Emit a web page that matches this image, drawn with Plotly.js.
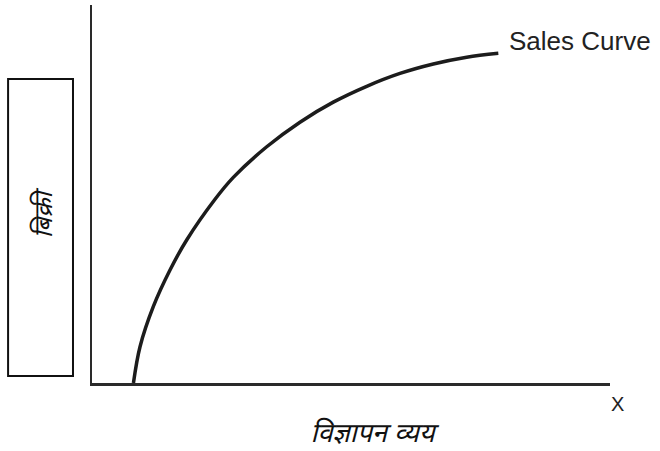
<!DOCTYPE html>
<html>
<head>
<meta charset="utf-8">
<script src="https://cdn.plot.ly/plotly-3.0.1.min.js"></script>
<style>html,body{margin:0;padding:0;background:#fff;}#chart{width:660px;height:451px;}</style>
</head>
<body>
<div id="chart"></div>
<script>
// Advertising expenditure (x) vs sales (y), arbitrary units 0-100
const adSpend = [8, 9.27, 11.83, 15.06, 18.28, 23.75, 27.28, 33.73, 40.15, 46.58, 53.03, 59.46, 65.89, 72.34, 78.44];
const sales   = [0, 9.6, 20.19, 29.89, 37.83, 48.6, 54.4, 62.5, 69.0, 74.3, 78.5, 81.9, 84.4, 86.2, 87.22];
const curveLabel = "Sales Curve";
const xLabel = "विज्ञापन व्यय";
const yLabel = "बिक्री";
const xAxisLetter = "X";

const trace = {
  x: adSpend, y: sales, type: 'scatter', mode: 'lines',
  line: {color: '#1c1c1c', width: 3.5, shape: 'spline', smoothing: 1},
  hoverinfo: 'skip', showlegend: false
};

const layout = {
  width: 660, height: 451,
  margin: {l: 92, r: 50, t: 5, b: 68, pad: 0},
  paper_bgcolor: '#fff', plot_bgcolor: '#fff',
  xaxis: {range: [0, 100], showgrid: false, zeroline: false, showticklabels: false, ticks: '',
          showline: true, linecolor: '#2a2a2a', linewidth: 2.5, fixedrange: true},
  yaxis: {range: [0, 100], showgrid: false, zeroline: false, showticklabels: false, ticks: '',
          showline: true, linecolor: '#2a2a2a', linewidth: 2.5, fixedrange: true},
  shapes: [
    {type: 'rect', xref: 'paper', yref: 'paper', x0: -0.162, x1: -0.0367, y0: 0.0185, y1: 0.804,
     line: {color: '#111', width: 2}, fillcolor: 'rgba(0,0,0,0)'}
  ],
  annotations: [
    {text: curveLabel, xref: 'paper', yref: 'paper', x: 0.801, y: 0.905, xanchor: 'left', yanchor: 'middle',
     showarrow: false, font: {family: 'Liberation Sans, Arial, sans-serif', size: 26, color: '#222'}},
    {text: xAxisLetter, xref: 'paper', yref: 'paper', x: 1.014, y: -0.0556, xanchor: 'center', yanchor: 'middle',
     showarrow: false, font: {family: 'Liberation Sans, Arial, sans-serif', size: 20, color: '#222'}},
    {text: '<i>' + xLabel + '</i>', xref: 'paper', yref: 'paper', x: 0.548, y: -0.127, xanchor: 'center', yanchor: 'middle',
     showarrow: false, font: {family: 'Noto Sans, sans-serif', size: 27, color: '#111'}},
    {text: '<i>' + yLabel + '</i>', xref: 'paper', yref: 'paper', x: -0.0965, y: 0.45, xanchor: 'center', yanchor: 'middle',
     textangle: -90, showarrow: false, font: {family: 'Noto Sans, sans-serif', size: 25, color: '#111'}}
  ]
};

Plotly.newPlot('chart', [trace], layout, {displayModeBar: false, staticPlot: true}).then(function (gd) {
  // slant the Devanagari labels (no italic face is installed for that script)
  gd.querySelectorAll('.annotation-text').forEach(function (t) {
    const s = t.textContent;
    if (s === xLabel || s === yLabel) {
      t.style.transformBox = 'fill-box';
      t.style.transformOrigin = 'center';
      t.style.transform = 'skewX(-14deg)';
    }
  });
});
</script>
</body>
</html>
